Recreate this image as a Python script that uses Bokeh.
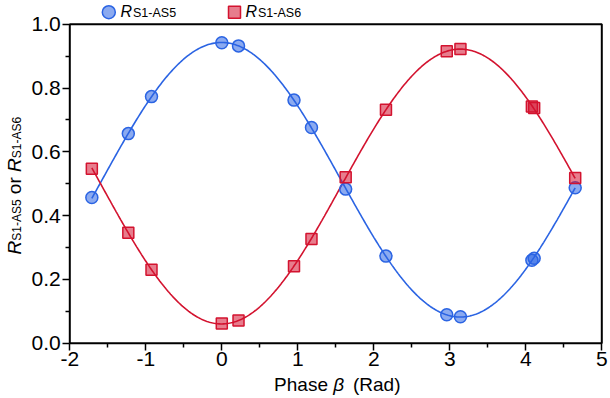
import numpy as np
from bokeh.plotting import figure
from bokeh.models import Range1d, FixedTicker, BoxAnnotation, Label
from bokeh.embed import file_html
from bokeh.resources import INLINE

# ---------------- data ----------------
phase = [-1.71, -1.23, -0.925, 0.0, 0.22, 0.95, 1.18, 1.63, 2.16, 2.96, 3.14, 4.08, 4.11, 4.65]
r_as5 = [0.457, 0.657, 0.773, 0.942, 0.932, 0.762, 0.676, 0.483, 0.273, 0.089, 0.083, 0.260, 0.266, 0.487]
r_as6 = [0.547, 0.346, 0.230, 0.062, 0.071, 0.241, 0.327, 0.520, 0.732, 0.915, 0.922, 0.742, 0.737, 0.518]

x_ticks = [-2, -1, 0, 1, 2, 3, 4, 5]
x_tick_labels = ["-2", "-1", "0", "1", "2", "3", "4", "5"]
x_minor = [-1.5, -0.5, 0.5, 1.5, 2.5, 3.5, 4.5]
y_ticks = [0.0, 0.2, 0.4, 0.6, 0.8, 1.0]
y_tick_labels = ["0.0", "0.2", "0.4", "0.6", "0.8", "1.0"]
y_minor = [0.1, 0.3, 0.5, 0.7, 0.9]

series_names = ["S1-AS5", "S1-AS6"]

# ---------------- layout (page pixels; the frame covers the whole canvas) ----------------
PAGE_W, PAGE_H = 610, 398
X0PX, PXX = 69.3, 76.0             # page px of x=-2, px per unit
Y0PX, PXY = 342.7, 319.0           # page px of y=0, px per unit
MID = 0.3465                       # baseline -> middle of text box, in em (Liberation Sans)


def fx(px):
    return -2 + (px - X0PX) / PXX


def fy(py):
    return (Y0PX - py) / PXY


BLUE = "#2b64e3"
RED = "#d3132f"
FONT = "Liberation Sans"

p = figure(width=PAGE_W, height=PAGE_H, title=None,
           x_range=Range1d(fx(0), fx(PAGE_W)), y_range=Range1d(fy(PAGE_H), fy(0)),
           output_backend="svg", toolbar_location=None,
           min_border=0, min_border_left=0, min_border_right=0,
           min_border_top=0, min_border_bottom=0)
p.outline_line_color = None
p.grid.visible = False
p.background_fill_color = "white"
p.border_fill_color = "white"

# frame box
p.add_layout(BoxAnnotation(left=x_ticks[0], right=x_ticks[-1], bottom=y_ticks[0], top=y_ticks[-1],
                           fill_alpha=0, line_color="black", line_alpha=1, line_width=2))

# axes, pinned to the box edges
p.xaxis.fixed_location = y_ticks[0]
p.yaxis.fixed_location = x_ticks[0]
p.xaxis.ticker = FixedTicker(ticks=x_ticks, minor_ticks=x_minor)
p.xaxis.major_label_overrides = {t: l for t, l in zip(x_ticks, x_tick_labels)}
p.yaxis.ticker = FixedTicker(ticks=y_ticks, minor_ticks=y_minor)
p.yaxis.major_label_overrides = {t: l for t, l in zip(y_ticks, y_tick_labels)}
for ax in (p.xaxis, p.yaxis):
    ax.axis_line_color = None
    ax.major_tick_line_color = "black"
    ax.minor_tick_line_color = "black"
    ax.major_tick_line_width = 1.5
    ax.minor_tick_line_width = 1.5
    ax.major_tick_out = 7
    ax.major_tick_in = 0
    ax.minor_tick_out = 4
    ax.minor_tick_in = 0
    ax.major_label_text_font = FONT
    ax.major_label_text_font_size = "21px"
    ax.major_label_text_color = "black"
    ax.major_label_standoff = 2


# fitted curves  R = a + b cos(beta) + c sin(beta), least squares on the data
def fit(b, r):
    b = np.asarray(b, dtype=float)
    A = np.column_stack([np.ones_like(b), np.cos(b), np.sin(b)])
    coef, *_ = np.linalg.lstsq(A, np.asarray(r, dtype=float), rcond=None)
    bb = np.linspace(b.min(), b.max(), 400)
    return bb, coef[0] + coef[1] * np.cos(bb) + coef[2] * np.sin(bb)


bx, by = fit(phase, r_as5)
p.line(bx, by, line_color=BLUE, line_width=1.6)
rx, ry = fit(phase, r_as6)
p.line(rx, ry, line_color=RED, line_width=1.6)

p.scatter(phase, r_as5, marker="circle", size=12, fill_color=BLUE, fill_alpha=0.55,
          line_color=BLUE, line_width=1.5)
p.scatter(phase, r_as6, marker="square", size=11, fill_color=RED, fill_alpha=0.55,
          line_color=RED, line_width=1.5)


def htext(x_left, baseline, txt, size, style="normal"):
    """horizontal text, left edge x_left, baseline at page y 'baseline'"""
    p.add_layout(Label(x=fx(x_left), y=fy(baseline - MID * size), text=txt, text_font=FONT,
                       text_font_size=f"{size}px", text_font_style=style, text_align="left",
                       text_baseline="middle", text_color="black"))


# ---------------- legend (above the box) ----------------
LEG_Y, LEG_BASE = 11.7, 16.7
p.scatter([fx(108.3)], [fy(LEG_Y)], marker="circle", size=13, fill_color=BLUE, fill_alpha=0.55,
          line_color=BLUE, line_width=1.5)
p.scatter([fx(234)], [fy(LEG_Y)], marker="square", size=12, fill_color=RED, fill_alpha=0.55,
          line_color=RED, line_width=1.5)
for xr, name in ((120, series_names[0]), (245, series_names[1])):
    htext(xr, LEG_BASE, "R", 16, "italic")
    htext(xr + 12.5, LEG_BASE, name, 12.5)

# ---------------- x axis title ----------------
XB = 390.7
htext(273.6, XB, "Phase", 19)
htext(332.7, XB, "\u03b2", 19, "italic")
htext(352.5, XB, "(Rad)", 19)

# ---------------- y axis title (rotated, reads bottom to top) ----------------
YBX = 20.7   # page x of the (vertical) baseline
pieces = [("R", "italic", 19, 0.722, 0), (series_names[0], "normal", 12, 3.446, 0),
          ("or", "normal", 19, 0.889, 5.3), ("R", "italic", 19, 0.722, 5.3), (series_names[1], "normal", 12, 3.446, 0)]
pos = 254  # page y where the title starts (bottom end)
for txt, style, size, em, gap in pieces:
    pos -= gap
    p.add_layout(Label(x=fx(YBX - MID * size), y=fy(pos), text=txt, text_font=FONT,
                       text_font_size=f"{size}px", text_font_style=style, angle=np.pi / 2,
                       text_align="left", text_baseline="middle", text_color="black"))
    pos -= em * size

open("out.html", "w").write(file_html(p, INLINE))
